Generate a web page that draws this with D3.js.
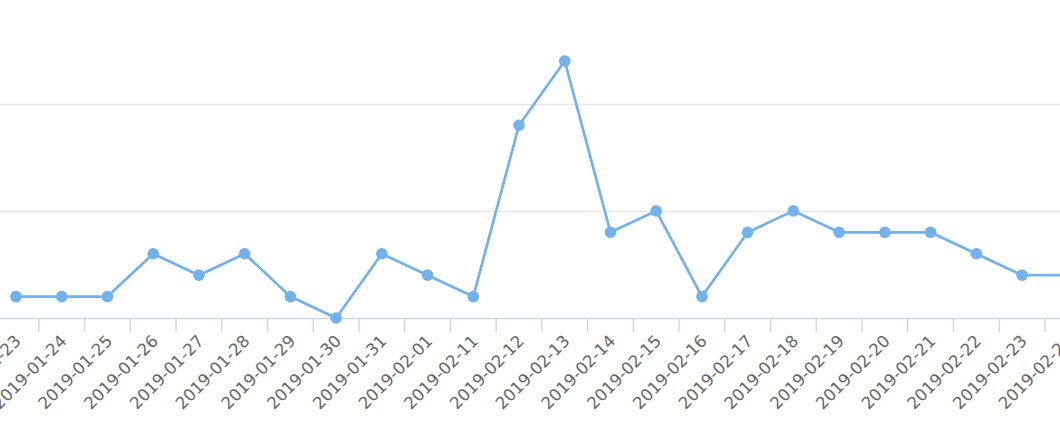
<!DOCTYPE html>
<html lang="en">

<head>
    <meta charset="UTF-8">
    <title>Daily count</title>
    <script src="https://d3js.org/d3.v7.min.js"></script>
    <style>
        body {
            margin: 0;
            background: #ffffff;
            overflow: hidden;
        }

        svg {
            display: block;
        }
    </style>
</head>

<body>
    <script>
        // categories (x axis)
        const dates = [
            "2019-01-23", "2019-01-24", "2019-01-25", "2019-01-26", "2019-01-27", "2019-01-28",
            "2019-01-29", "2019-01-30", "2019-01-31", "2019-02-01", "2019-02-11", "2019-02-12",
            "2019-02-13", "2019-02-14", "2019-02-15", "2019-02-16", "2019-02-17", "2019-02-18",
            "2019-02-19", "2019-02-20", "2019-02-21", "2019-02-22", "2019-02-23", "2019-02-24"
        ];
        // series values
        const counts = [1, 1, 1, 3, 2, 3, 1, 0, 3, 2, 1, 9, 12, 4, 5, 1, 4, 5, 4, 4, 4, 3, 2, 2];
        // y grid values
        const yTicks = [0, 5, 10, 15];

        const width = 1060;
        const height = 426;
        const axisY = 318;
        const step = 45.73;
        const firstCenter = 16;

        const svg = d3.select("body").append("svg")
            .attr("width", width)
            .attr("height", height);

        // the plot is wider than the window, first band starts left of 0
        const x = d3.scaleBand()
            .domain(dates)
            .range([firstCenter - step / 2, firstCenter - step / 2 + step * dates.length]);

        const y = d3.scaleLinear()
            .domain([0, 15])
            .range([axisY, axisY - 15 * 21.42]);

        // grid lines
        svg.append("g")
            .selectAll("line")
            .data(yTicks.filter(d => d > 0))
            .enter().append("line")
            .attr("x1", 0)
            .attr("x2", width)
            .attr("y1", d => Math.round(y(d)) + 0.5)
            .attr("y2", d => Math.round(y(d)) + 0.5)
            .style("stroke", "#e6e6e6")
            .style("stroke-width", 1.4);

        // x axis line + ticks on band edges
        const xAxis = svg.append("g");
        xAxis.append("line")
            .attr("x1", 0)
            .attr("x2", width)
            .attr("y1", axisY + 0.5)
            .attr("y2", axisY + 0.5)
            .style("stroke", "#ccd6eb")
            .style("stroke-width", 1.4);

        xAxis.selectAll("line.tick")
            .data(dates)
            .enter().append("line")
            .attr("class", "tick")
            .attr("x1", d => x(d) + x.bandwidth())
            .attr("x2", d => x(d) + x.bandwidth())
            .attr("y1", axisY)
            .attr("y2", axisY + 14)
            .style("stroke", "#ccd6eb")
            .style("stroke-width", 1.4);

        // rotated labels
        xAxis.selectAll("text")
            .data(dates)
            .enter().append("text")
            .attr("transform", d => `translate(${x(d) + x.bandwidth() / 2 + 6},${axisY + 24}) rotate(-45)`)
            .attr("text-anchor", "end")
            .style("font-family", "'DejaVu Sans', sans-serif")
            .style("font-size", "16.6px")
            .style("fill", "#666666")
            .text(d => d);

        const cx = d => x(d) + x.bandwidth() / 2;
        const points = dates.map((d, i) => ({ date: d, value: counts[i] }));

        // line
        const line = d3.line()
            .x(d => cx(d.date))
            .y(d => y(d.value));

        svg.append("path")
            .datum(points)
            .attr("d", line)
            .style("fill", "none")
            .style("stroke", "#72b1ec")
            .style("stroke-width", 2.7)
            .style("stroke-linejoin", "round");

        // markers
        svg.append("g")
            .selectAll("circle")
            .data(points)
            .enter().append("circle")
            .attr("cx", d => cx(d.date))
            .attr("cy", d => y(d.value))
            .attr("r", 5.8)
            .style("fill", "#72b1ec");
    </script>
</body>

</html>
